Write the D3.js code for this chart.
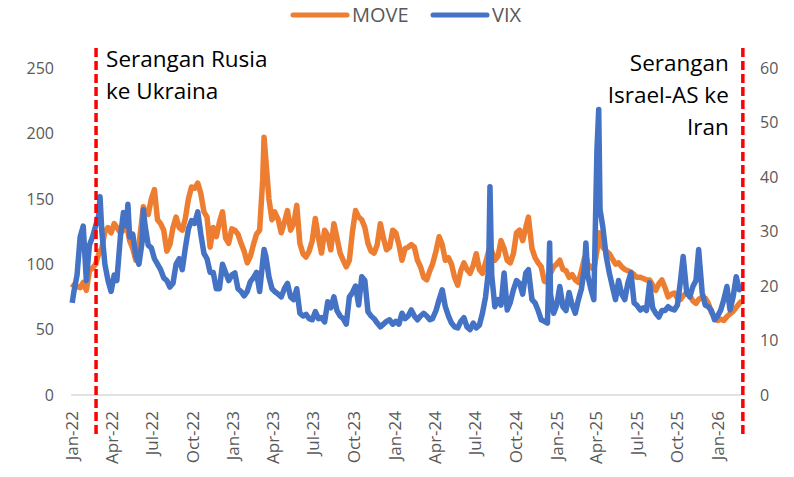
<!DOCTYPE html>
<html>
<head>
<meta charset="utf-8">
<script src="https://cdn.jsdelivr.net/npm/d3@7"></script>
<style>
  body { margin: 0; background: #fff; }
  svg { font-family: "Open Sans", sans-serif; }
</style>
</head>
<body>
<svg id="chart" width="794" height="477"></svg>
<script>
// weekly readings (plus spike days), one group per year
const dates2022 = ["2022-01-03","2022-01-07","2022-01-14","2022-01-21","2022-01-28","2022-02-04","2022-02-11","2022-02-18","2022-02-25","2022-03-04","2022-03-07","2022-03-11","2022-03-18","2022-03-25","2022-04-01","2022-04-08","2022-04-14","2022-04-22","2022-04-29","2022-05-06","2022-05-09","2022-05-13","2022-05-20","2022-05-27","2022-06-03","2022-06-10","2022-06-13","2022-06-17","2022-06-24","2022-07-01","2022-07-08","2022-07-15","2022-07-22","2022-07-29","2022-08-05","2022-08-12","2022-08-19","2022-08-26","2022-09-02","2022-09-09","2022-09-16","2022-09-23","2022-09-30","2022-10-07","2022-10-14","2022-10-21","2022-10-28","2022-11-04","2022-11-11","2022-11-18","2022-11-25","2022-12-02","2022-12-09","2022-12-16","2022-12-23","2022-12-30"];
const move2022 = [82,84,83,82,86,80,95,97,100,108,110,112,125,128,124,131,128,124,126,130,125,118,112,103,115,135,144,140,138,150,157,134,131,126,110,115,128,136,128,126,135,150,159,158,162,154,140,136,113,128,121,132,140,120,116,127];
const vix2022 = [16.9,19,22,29,31,21,27.5,29,31,33,36.4,30,24,21,19,22,21,29,33.5,31,35,29,29.5,25.5,24,28,34,31,27.5,27,25,24,23,21.5,21,19.8,20.5,24,25,23,27,30.5,32,31.5,33.6,29.5,26,25,22.5,22.5,19.5,19.5,24,22.5,21,22];

const dates2023 = ["2023-01-06","2023-01-13","2023-01-20","2023-01-27","2023-02-03","2023-02-10","2023-02-17","2023-02-24","2023-03-03","2023-03-10","2023-03-13","2023-03-17","2023-03-24","2023-03-31","2023-04-06","2023-04-14","2023-04-21","2023-04-28","2023-05-05","2023-05-12","2023-05-19","2023-05-26","2023-06-02","2023-06-09","2023-06-16","2023-06-23","2023-06-30","2023-07-07","2023-07-14","2023-07-21","2023-07-28","2023-08-04","2023-08-11","2023-08-18","2023-08-25","2023-09-01","2023-09-08","2023-09-15","2023-09-22","2023-09-29","2023-10-06","2023-10-13","2023-10-20","2023-10-27","2023-11-03","2023-11-10","2023-11-17","2023-11-24","2023-12-01","2023-12-08","2023-12-15","2023-12-22","2023-12-29"];
const move2023 = [126,123,116,110,101,106,115,123,126,165,197,180,150,134,140,134,124,132,141,126,131,145,116,108,105.5,110,118,135,120,108.5,126,122,111,131,120,108.5,103,98,103,125,141,136,134,128,116,110,108.5,115,131,120,111,113,126];
const vix2023 = [22.4,19.5,19,18.2,19,20.8,21.5,22.5,19,24.5,26.7,25.5,21.7,19.5,19,18.5,18,19.5,20.5,18,17.5,19.5,15,14.5,14.8,14,13.8,15.3,14,14.2,13.4,17.1,16,18,15.5,14.5,14,13,18,18.8,20,16.5,21.7,21,15.3,14.5,14,13.2,12.5,13,13.5,13.8,13];

const dates2024 = ["2024-01-05","2024-01-12","2024-01-19","2024-01-26","2024-02-02","2024-02-09","2024-02-16","2024-02-23","2024-03-01","2024-03-08","2024-03-15","2024-03-22","2024-03-28","2024-04-05","2024-04-12","2024-04-19","2024-04-26","2024-05-03","2024-05-10","2024-05-17","2024-05-24","2024-05-31","2024-06-07","2024-06-14","2024-06-21","2024-06-28","2024-07-05","2024-07-12","2024-07-19","2024-07-26","2024-08-02","2024-08-05","2024-08-09","2024-08-16","2024-08-23","2024-08-30","2024-09-06","2024-09-13","2024-09-20","2024-09-27","2024-10-04","2024-10-11","2024-10-18","2024-10-25","2024-10-31","2024-11-08","2024-11-15","2024-11-22","2024-11-29","2024-12-06","2024-12-13","2024-12-18","2024-12-20","2024-12-27"];
const move2024 = [124,115,103,112,113,115,113,103,98,90,88,95,100,110,121,115,103,105,100,90,84,95,101,96,93,99,108,96,93,101,110,113,110,103,106,118,112,103,101,108,124,126,118,128,136,112,105,101,98,87,86,95,93,98];
const vix2024 = [13.5,13,15,14,14.5,15.6,14.5,13.8,14.5,15,14.5,13.8,14,15.5,17.5,19.3,16.2,14.5,13.2,12.5,12.3,13.5,14.2,12.5,12,13.2,12.3,12.8,15,18,23,38.2,22,16.2,17.5,16.5,22.4,15.6,17,19.3,21,20.5,18.5,22.4,23,17.5,16.9,15.5,13.8,13.5,13.2,27.9,18.5,15];

const dates2025 = ["2025-01-03","2025-01-10","2025-01-17","2025-01-24","2025-01-31","2025-02-07","2025-02-14","2025-02-21","2025-02-28","2025-03-07","2025-03-10","2025-03-14","2025-03-21","2025-03-28","2025-04-04","2025-04-08","2025-04-11","2025-04-17","2025-04-25","2025-05-02","2025-05-09","2025-05-16","2025-05-23","2025-05-30","2025-06-06","2025-06-13","2025-06-20","2025-06-27","2025-07-03","2025-07-11","2025-07-18","2025-07-25","2025-08-01","2025-08-08","2025-08-15","2025-08-22","2025-08-29","2025-09-05","2025-09-12","2025-09-19","2025-09-26","2025-10-03","2025-10-10","2025-10-16","2025-10-24","2025-10-31","2025-11-07","2025-11-14","2025-11-20","2025-11-28","2025-12-05","2025-12-12","2025-12-19","2025-12-26"];
const move2025 = [100,103,96,95,90,92,88,86,95,105,106,100,98,96,110,124,120,113,110,108,104,100,101,98,96,95,94,92,90,90,89,88,88,84,80,85,88,82,75,77,78,74,73,76,78,76,72,70,73,75,74,70,63,60];
const vix2025 = [16.5,19.9,16.2,15.5,18.8,16.5,15,17.5,19.5,23.5,27.9,22,19.5,17.5,45,52.4,34,31,25.4,22.4,19.9,17.5,21,18.5,17.5,20.6,22.4,16.9,16.5,15.6,16,15.5,20.6,16,15,14.3,15.5,15.5,16.2,15.8,15.6,16.5,21,25.4,18.8,18,19.9,21,26.7,18.8,16.5,16.2,15.5,13.8];

const dates2026 = ["2026-01-02","2026-01-09","2026-01-16","2026-01-23","2026-01-30","2026-02-06","2026-02-13","2026-02-20","2026-02-26"];
const move2026 = [57,58,57,60,62,64,67,70,72];
const vix2026 = [14.5,15.6,17.5,19.9,15.6,18,21.7,19.3,19.9];

const leftTicks = [0, 50, 100, 150, 200, 250];
const rightTicks = [0, 10, 20, 30, 40, 50, 60];
const events = [
  { date: "2022-02-26", lines: ["Serangan Rusia", "ke Ukraina"], side: "right" },
  { date: "2026-02-28", lines: ["Serangan", "Israel-AS ke", "Iran"], side: "left" }
];
const seriesInfo = [
  { name: "MOVE", color: "#ED7D31" },
  { name: "VIX", color: "#4472C4" }
];

const parse = d3.utcParse("%Y-%m-%d");
const dates = [].concat(dates2022, dates2023, dates2024, dates2025, dates2026).map(parse);
const move = [].concat(move2022, move2023, move2024, move2025, move2026);
const vix = [].concat(vix2022, vix2023, vix2024, vix2025, vix2026);
const n = Math.min(dates.length, move.length, vix.length);
const rows = d3.range(n).map(i => ({ date: dates[i], move: move[i], vix: vix[i] }));

const svg = d3.select('#chart');

const x = d3.scaleUtc()
  .domain([parse("2022-01-01"), parse("2026-01-01")])
  .range([71.3, 717.2]);
const yL = d3.scaleLinear().domain([0, 250]).range([395, 68]);
const yR = d3.scaleLinear().domain([0, 60]).range([395, 68]);

// zero line
svg.append('line')
  .attr('x1', x(rows[0].date) - 1).attr('x2', x(rows[n - 1].date))
  .attr('y1', yL(0)).attr('y2', yL(0))
  .attr('stroke', '#D9D9D9').attr('stroke-width', 1.5);

// left axis labels
svg.append('g').selectAll('text')
  .data(leftTicks).join('text')
  .attr('x', 54).attr('y', d => yL(d)).attr('dy', '0.36em')
  .attr('text-anchor', 'end')
  .attr('font-size', 16).attr('fill', '#595959')
  .text(d => d);

// right axis labels
svg.append('g').selectAll('text')
  .data(rightTicks).join('text')
  .attr('x', 760).attr('y', d => yR(d)).attr('dy', '0.36em')
  .attr('text-anchor', 'start')
  .attr('font-size', 16).attr('fill', '#595959')
  .text(d => d);

// x labels, quarterly, rotated
const fmt = d3.utcFormat("%b-%y");
const qTicks = d3.utcMonth.every(3).range(parse("2022-01-01"), parse("2026-01-02"));
svg.append('g').selectAll('text')
  .data(qTicks).join('text')
  .attr('transform', d => `translate(${x(d)},411) rotate(-90)`)
  .attr('dy', '0.4em')
  .attr('text-anchor', 'end')
  .attr('font-size', 17).attr('fill', '#595959')
  .text(d => fmt(d));

// series lines
const lineMove = d3.line().x(d => x(d.date)).y(d => yL(d.move));
const lineVix = d3.line().x(d => x(d.date)).y(d => yR(d.vix));

svg.append('path')
  .datum(rows)
  .attr('d', lineMove)
  .attr('fill', 'none')
  .attr('stroke', seriesInfo[0].color)
  .attr('stroke-width', 5.5)
  .attr('stroke-linejoin', 'round');

svg.append('path')
  .datum(rows)
  .attr('d', lineVix)
  .attr('fill', 'none')
  .attr('stroke', seriesInfo[1].color)
  .attr('stroke-width', 5.5)
  .attr('stroke-linejoin', 'round');

// event markers
events.forEach(ev => {
  const ex = x(parse(ev.date));
  svg.append('line')
    .attr('x1', ex).attr('x2', ex)
    .attr('y1', 48).attr('y2', 437)
    .attr('stroke', '#FF0000').attr('stroke-width', 3.5)
    .attr('stroke-dasharray', '9,4');

  const tx = ev.side === 'right' ? ex + 10 : ex - 14;
  const startY = ev.side === 'right' ? 67 : 71;
  svg.append('g').selectAll('text')
    .data(ev.lines).join('text')
    .attr('x', tx)
    .attr('y', (d, i) => startY + i * 32)
    .attr('text-anchor', ev.side === 'right' ? 'start' : 'end')
    .attr('font-size', 22.5).attr('fill', '#000')
    .text(d => d);
});

// legend
const legend = svg.append('g');
const legendX = [293, 433];
seriesInfo.forEach((s, i) => {
  legend.append('line')
    .attr('x1', legendX[i]).attr('x2', legendX[i] + 54)
    .attr('y1', 15).attr('y2', 15)
    .attr('stroke', s.color).attr('stroke-width', 5)
    .attr('stroke-linecap', 'round');
  legend.append('text')
    .attr('x', legendX[i] + 59).attr('y', 15).attr('dy', '0.36em')
    .attr('font-size', 20).attr('fill', '#595959')
    .text(s.name);
});
</script>
</body>
</html>
